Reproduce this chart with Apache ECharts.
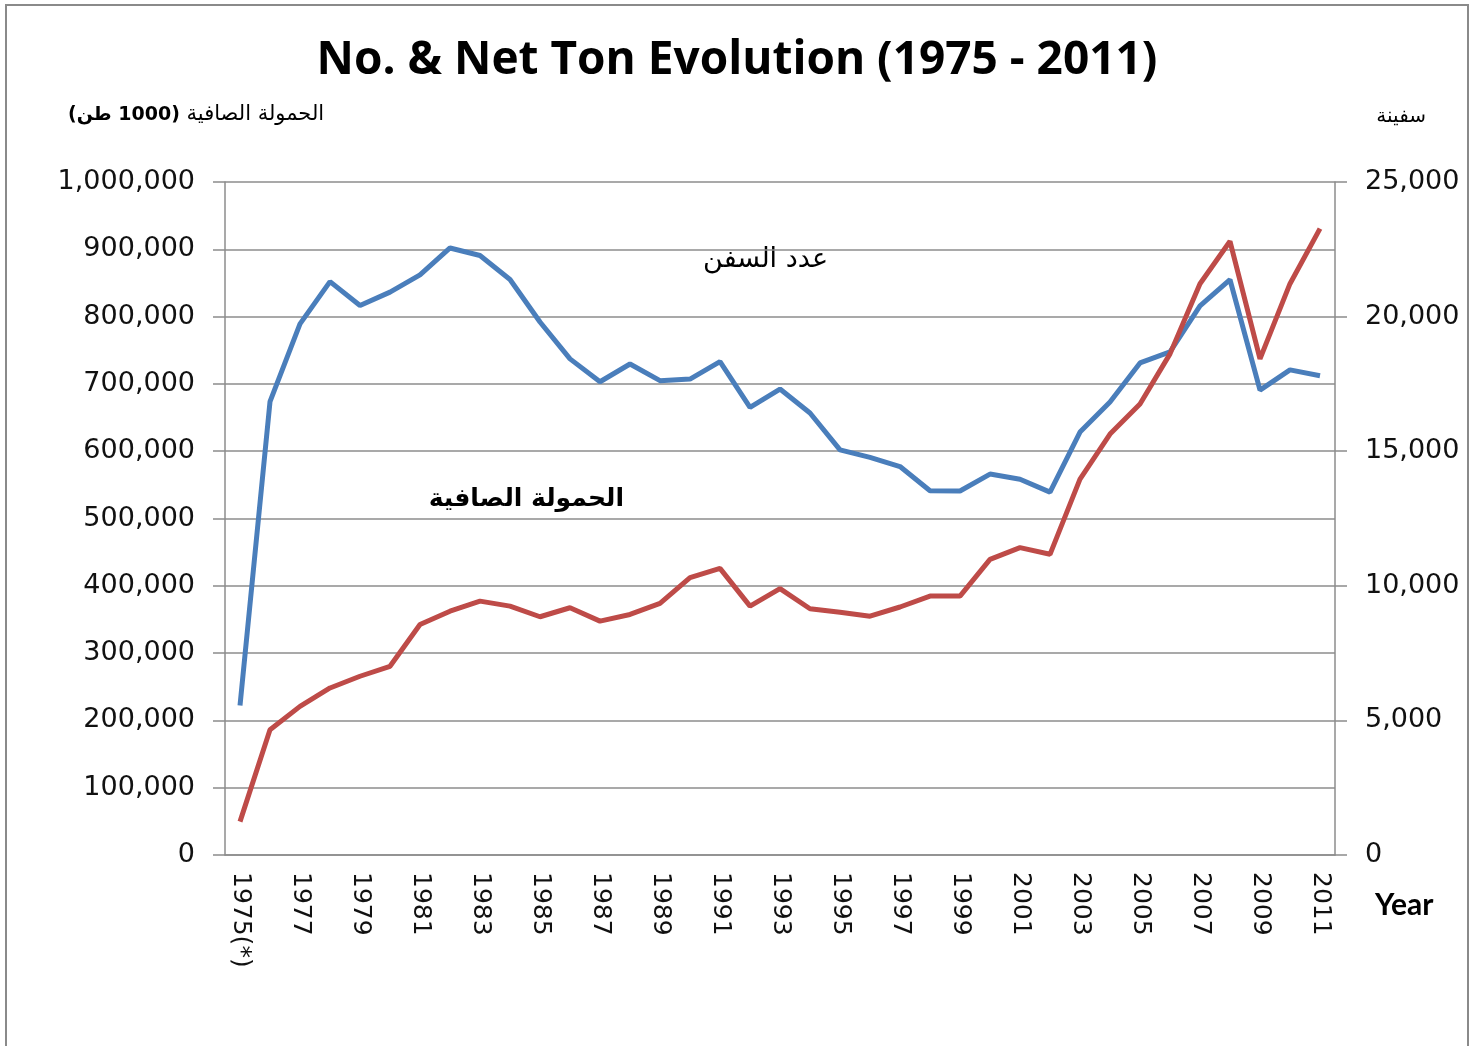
<!DOCTYPE html>
<html>
<head>
<meta charset="utf-8">
<script src="https://cdn.jsdelivr.net/npm/echarts@6/dist/echarts.min.js"></script>
<style>
html, body { margin: 0; padding: 0; background: #fff; }
#main { width: 1474px; height: 1046px; }
</style>
</head>
<body>
<div id="main"></div>
<script>
// categories (x axis)
var years = ['1975(*)', '1976', '1977', '1978', '1979', '1980', '1981', '1982', '1983', '1984',
    '1985', '1986', '1987', '1988', '1989', '1990', '1991', '1992', '1993', '1994',
    '1995', '1996', '1997', '1998', '1999', '2000', '2001', '2002', '2003', '2004',
    '2005', '2006', '2007', '2008', '2009', '2010', '2011'];

// عدد السفن - number of ships (right axis)
var shipCount = [5550, 16840, 19730, 21300, 20410, 20910, 21550, 22550, 22270, 21380,
    19800, 18430, 17580, 18240, 17620, 17680, 18330, 16630, 17310, 16420,
    15050, 14770, 14430, 13530, 13520, 14150, 13960, 13480, 15710, 16830,
    18280, 18690, 20400, 21370, 17270, 18020, 17800];

// الحمولة الصافية - net ton, 1000 ton (left axis)
var netTon = [49600, 186000, 220800, 248200, 265600, 280400, 342500, 362300, 377200, 369800,
    354000, 367400, 347500, 357400, 373800, 412000, 425900, 369800, 395700, 365900,
    360800, 354900, 368500, 384700, 384700, 439300, 456700, 446800, 558500, 625500,
    670100, 744600, 848900, 911900, 737200, 848900, 930800];

var tonAxis = { min: 0, max: 1000000, interval: 100000 };
var shipAxis = { min: 0, max: 25000, interval: 5000 };

var myChart = echarts.init(document.getElementById('main'));

function fmt(v) {
    return Number(v).toLocaleString('en-US');
}

// RTL embedding so the Arabic+number text reads as in the original
function rtl(s) {
    return '\u202B' + s + '\u202C';
}

var gridColor = '#8c8c8c';
var labelFont = 'DejaVu Sans';

var option = {
    backgroundColor: '#fff',
    animation: false,
    title: {
        text: 'No. & Net Ton Evolution (1975 - 2011)',
        left: 'center',
        top: 33,
        textStyle: { fontFamily: 'Open Sans', fontWeight: 'bold', fontSize: 46, color: '#000' }
    },
    grid: { left: 225, right: 139, top: 182, bottom: 191 },
    xAxis: {
        type: 'category',
        data: years,
        boundaryGap: true,
        axisLine: { lineStyle: { color: gridColor, width: 1.5 } },
        axisTick: { interval: 0, length: 8, lineStyle: { color: gridColor, width: 1.5 } },
        axisLabel: {
            interval: 1, rotate: -90, margin: 17,
            fontFamily: labelFont, fontSize: 25, color: '#111'
        }
    },
    yAxis: [{
        type: 'value',
        position: 'left',
        min: tonAxis.min, max: tonAxis.max, interval: tonAxis.interval,
        axisLine: { show: true, lineStyle: { color: gridColor, width: 1.5 } },
        axisTick: { show: true, length: 12, lineStyle: { color: gridColor, width: 1.5 } },
        splitLine: { lineStyle: { color: gridColor, width: 1.5 } },
        axisLabel: {
            margin: 30, formatter: fmt,
            fontFamily: labelFont, fontSize: 27, color: '#111'
        }
    }, {
        type: 'value',
        position: 'right',
        min: shipAxis.min, max: shipAxis.max, interval: shipAxis.interval,
        axisLine: { show: true, lineStyle: { color: gridColor, width: 1.5 } },
        axisTick: { show: true, length: 12, lineStyle: { color: gridColor, width: 1.5 } },
        splitLine: { show: false },
        axisLabel: {
            margin: 30, formatter: fmt,
            fontFamily: labelFont, fontSize: 27, color: '#111'
        }
    }],
    series: [{
        name: 'عدد السفن',
        type: 'line',
        yAxisIndex: 1,
        data: shipCount,
        symbol: 'none',
        lineStyle: { color: '#4a7ebb', width: 5 }
    }, {
        name: 'الحمولة الصافية',
        type: 'line',
        yAxisIndex: 0,
        data: netTon,
        symbol: 'none',
        lineStyle: { color: '#be4b48', width: 5 }
    }],
    graphic: [{
        type: 'rect',
        silent: true,
        shape: { x: 6, y: 5, width: 1462, height: 1080 },
        style: { fill: 'none', stroke: '#8a8a8a', lineWidth: 2 }
    }, {
        type: 'text',
        x: 68, y: 115,
        style: {
            text: '{b|' + rtl('(1000 طن)') + '}{a| الحمولة الصافية}',
            verticalAlign: 'middle',
            rich: {
                a: { fontFamily: labelFont, fontSize: 21, fill: '#000' },
                b: { fontFamily: labelFont, fontSize: 19, fontWeight: 'bold', fill: '#000' }
            }
        }
    }, {
        type: 'text',
        x: 1426, y: 117,
        style: { text: 'سفينة', align: 'right', verticalAlign: 'middle',
            font: '20px "DejaVu Sans"', fill: '#000' }
    }, {
        type: 'text',
        x: 828, y: 260,
        style: { text: 'عدد السفن', align: 'right', verticalAlign: 'middle',
            font: '27px "DejaVu Sans"', fill: '#000' }
    }, {
        type: 'text',
        x: 624, y: 499,
        style: { text: 'الحمولة الصافية', align: 'right', verticalAlign: 'middle',
            font: 'bold 25px "DejaVu Sans"', fill: '#000' }
    }, {
        type: 'text',
        x: 1375, y: 905,
        style: { text: 'Year', align: 'left', verticalAlign: 'middle',
            font: 'bold 30px Lato', fill: '#000' }
    }]
};

myChart.setOption(option);
</script>
</body>
</html>
